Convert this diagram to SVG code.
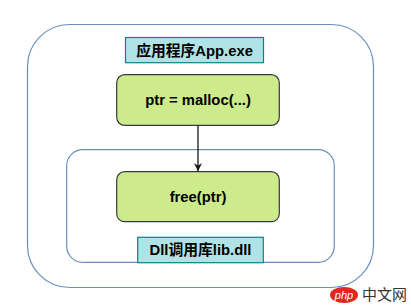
<svg xmlns="http://www.w3.org/2000/svg" width="411" height="306" viewBox="0 0 411 306">
<defs>
<style>
.container{fill:#ffffff;stroke:#6c8ebf;stroke-width:1.2}
.label{fill:#b0e3e6;stroke:#0e8088;stroke-width:1.2}
.proc{fill:#cdeb8b;stroke:#36393d;stroke-width:1.2}
.t{font-family:"Liberation Sans","Noto Sans CJK SC",Arial,sans-serif;font-weight:bold;font-size:14.8px;fill:#000;text-anchor:middle;dominant-baseline:central}
.edge{stroke:#1a1a1a;stroke-width:1.3;fill:none}
</style>
<marker id="arrow" viewBox="0 0 10 10" refX="10" refY="5" markerWidth="8" markerHeight="8" markerUnits="userSpaceOnUse" orient="auto">
<path d="M0,0 L10,5 L0,10 L3,5 Z" fill="#1a1a1a"/>
</marker>
</defs>
<rect width="411" height="306" fill="#ffffff"/>
<g id="app-container">
<rect class="container" x="27.5" y="24.5" width="346" height="263" rx="42" ry="42"/>
</g>
<g id="dll-container">
<rect class="container" x="66.7" y="149.7" width="267.6" height="112.6" rx="16" ry="16"/>
</g>
<g id="app-label">
<rect class="label" x="125.5" y="37.5" width="138" height="25.2"/>
<text class="t" x="194.5" y="50.5">应用程序App.exe</text>
</g>
<g id="malloc">
<rect class="proc" x="116.7" y="74.7" width="162.6" height="50.6" rx="8" ry="8"/>
<text class="t" x="198" y="100">ptr = malloc(...)</text>
</g>
<g id="free">
<rect class="proc" x="116.7" y="171.7" width="162.6" height="50" rx="8" ry="8"/>
<text class="t" x="198" y="197">free(ptr)</text>
</g>
<g id="dll-label">
<rect class="label" x="137.7" y="237.3" width="125.6" height="25.4"/>
<text class="t" x="200.5" y="250">Dll调用库lib.dll</text>
</g>
<g id="connectors">
<path class="edge" d="M198,125.3 L198,171.2" marker-end="url(#arrow)"/>
</g>
<g id="watermark">
<ellipse cx="344" cy="295" rx="14" ry="8" fill="#e0281d"/>
<text x="344" y="298.5" font-family="'Liberation Sans',sans-serif" font-style="italic" font-size="11" fill="#ffffff" text-anchor="middle">php</text>
<text x="362" y="300" font-family="'Noto Sans CJK SC',sans-serif" font-size="15" fill="#333333">中文网</text>
</g>
</svg>
